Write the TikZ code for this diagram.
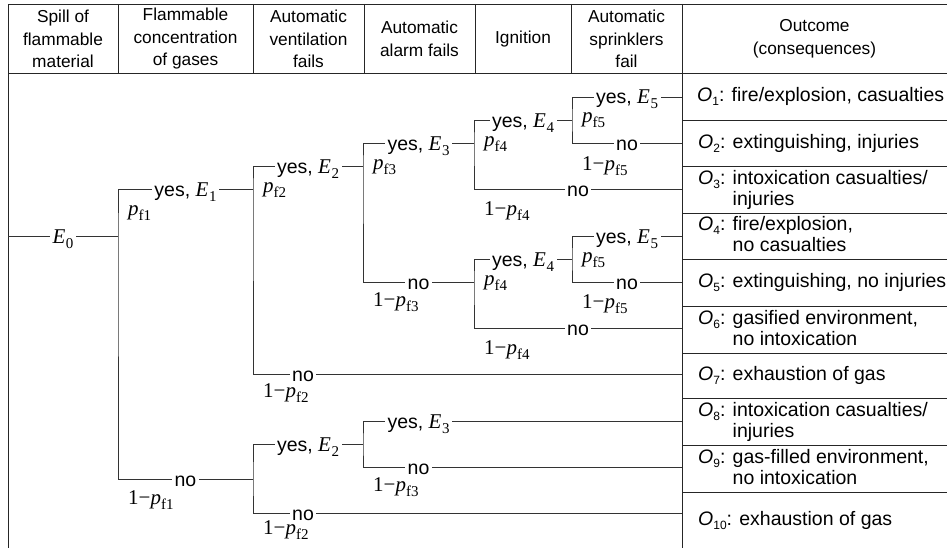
\documentclass[tikz,border=0pt]{standalone}
\usepackage{fontspec}
\setmainfont{Liberation Sans}
\newfontfamily\tmsfont{Liberation Serif}
\usepackage{tikz}
\usetikzlibrary{positioning}

\newcommand{\treefont}{\fontsize{19.5}{21}\selectfont}
\newcommand{\headfont}{\fontsize{17.3}{22.5}\selectfont}
\newcommand{\Ev}[1]{{\tmsfont\fontsize{21}{21}\selectfont\itshape E\kern0.5pt\raisebox{-5pt}{\fontsize{15}{15}\selectfont\upshape #1}}}
\newcommand{\pf}[1]{{\tmsfont\fontsize{21}{21}\selectfont\itshape p\raisebox{-5pt}{\fontsize{15}{15}\selectfont\upshape f#1}}}
\newcommand{\npf}[1]{{\tmsfont\fontsize{21}{21}\selectfont 1−}\pf{#1}}
\newcommand{\Oc}[1]{\textit{O}\raisebox{-4pt}{\fontsize{12}{12}\selectfont #1}}

\begin{document}
\begin{tikzpicture}[x=1pt, y=-1pt]
\tikzstyle{frame}=[line width=0.9pt, draw=black!85]
\tikzstyle{branch}=[line width=0.9pt, draw=black!80]
\tikzstyle{head}=[align=center, font=\headfont, inner sep=0pt]
\tikzstyle{lbl}=[anchor=base, fill=white, inner xsep=2.5pt, inner ysep=0pt, font=\treefont]
\tikzstyle{prob}=[anchor=base west, inner sep=0pt]
\tikzstyle{outc}=[anchor=west, align=left, inner sep=0pt, font=\treefont]

\useasboundingbox (0,0) rectangle (947,548);

% table
\draw[frame] (8,548) -- (8,4) -- (947,4);
\draw[frame] (8,73) -- (947,73);
\foreach \x in {118,253,364,475,571}
  \draw[frame] (\x,4) -- (\x,73);
\draw[frame] (682,4) -- (682,548);
\foreach \y in {120,166,213,259,306,353,398,445,492}
  \draw[frame] (682,\y) -- (947,\y);

\node[head] (h1) at (63,39) {Spill of\\flammable\\material};
\node[head] (h2) at (185.5,39) {Flammable\\concentration\\of gases};
\node[head] (h3) at (308.5,39) {Automatic\\ventilation\\fails};
\node[head] (h4) at (419.5,39) {Automatic\\alarm fails};
\node[head] (h5) at (523,39) {Ignition};
\node[head] (h6) at (626.5,39) {Automatic\\sprinklers\\fail};
\node[head] (h7) at (814.5,39) {Outcome\\(consequences)};

% junctions and ends
\coordinate (s0) at (8,236);
\coordinate (a) at (118,236);
\coordinate (b) at (253,189.5);
\coordinate (b2) at (253,479);
\coordinate (c) at (363,166.3);
\coordinate (c2) at (363,444.3);
\coordinate (d) at (474,143.3);
\coordinate (d2) at (474,282.2);
\coordinate (e) at (572,120.2);
\coordinate (e2) at (572,259);
\foreach \i/\y in {1/97,2/143.3,3/189.5,4/236,5/282.2,6/328.5,7/374.8,8/421,9/467.4,10/513.7}
  \coordinate (t\i) at (682,\y);

% branches
\draw[branch] (s0) -- (a);
\draw[branch] (b) -| (a) |- (b2);
\draw[branch] (c) -| (b) |- (t7);
\draw[branch] (d) -| (c) |- (d2);
\draw[branch] (e) -| (d) |- (t3);
\draw[branch] (t1) -| (e) |- (t2);
\draw[branch] (e2) -| (d2) |- (t6);
\draw[branch] (t4) -| (e2) |- (t5);
\draw[branch] (c2) -| (b2) |- (t10);
\draw[branch] (t8) -| (c2) |- (t9);

% yes / no
\node[lbl] (l0) at (63,243) {\Ev{0}};
\node[lbl] (ya) at (185.5,196.5) {yes, \Ev{1}};
\node[lbl] (na) at (185.5,486) {no};
\node[lbl] (yb) at (308,173.3) {yes, \Ev{2}};
\node[lbl] (nb) at (303,381.8) {no};
\node[lbl] (yc) at (418.5,150.3) {yes, \Ev{3}};
\node[lbl] (nc) at (418.5,289.2) {no};
\node[lbl] (yd) at (523,127.2) {yes, \Ev{4}};
\node[lbl] (nd) at (578,196.5) {no};
\node[lbl] (ye) at (627,104) {yes, \Ev{5}};
\node[lbl] (ne) at (627,150.3) {no};
\node[lbl] (yd2) at (523,266) {yes, \Ev{4}};
\node[lbl] (nd2) at (578,335.5) {no};
\node[lbl] (ye2) at (627,243) {yes, \Ev{5}};
\node[lbl] (ne2) at (627,289.2) {no};
\node[lbl] (yb2) at (308,451.3) {yes, \Ev{2}};
\node[lbl] (nb2) at (303,520.7) {no};
\node[lbl] (yc2) at (418.5,428) {yes, \Ev{3}};
\node[lbl] (nc2) at (418.5,474.4) {no};

% probabilities
\node[prob] (pa) at (128,215.5) {\pf{1}};
\node[prob] (qa) at (128,504) {\npf{1}};
\node[prob] (pb) at (263,192.3) {\pf{2}};
\node[prob] (qb) at (263,397.5) {\npf{2}};
\node[prob] (pc) at (373,169.3) {\pf{3}};
\node[prob] (qc) at (373,306) {\npf{3}};
\node[prob] (pd) at (484,146.2) {\pf{4}};
\node[prob] (qd) at (484,215.5) {\npf{4}};
\node[prob] (pe) at (582,123) {\pf{5}};
\node[prob] (qe) at (582,170.3) {\npf{5}};
\node[prob] (pd2) at (484,285) {\pf{4}};
\node[prob] (qd2) at (484,354.5) {\npf{4}};
\node[prob] (pe2) at (582,262) {\pf{5}};
\node[prob] (qe2) at (582,308.2) {\npf{5}};
\node[prob] (qb2) at (263,534) {\npf{2}};
\node[prob] (qc2) at (373,491.7) {\npf{3}};

% outcomes
\node[outc] (o1) at (697,96.5) {\Oc{1}: fire/explosion, casualties};
\node[outc] (o2) at (698,143) {\Oc{2}: extinguishing, injuries};
\node[outc] (o3) at (698,189.5) {\Oc{3}: intoxication casualties/\\\phantom{\Oc{3}: }injuries};
\node[outc] (o4) at (698,236) {\Oc{4}: fire/explosion,\\\phantom{\Oc{4}: }no casualties};
\node[outc] (o5) at (698,282.5) {\Oc{5}: extinguishing, no injuries};
\node[outc] (o6) at (698,329.5) {\Oc{6}: gasified environment,\\\phantom{\Oc{6}: }no intoxication};
\node[outc] (o7) at (698,375.5) {\Oc{7}: exhaustion of gas};
\node[outc] (o8) at (698,421.5) {\Oc{8}: intoxication casualties/\\\phantom{\Oc{8}: }injuries};
\node[outc] (o9) at (698,468.5) {\Oc{9}: gas-filled environment,\\\phantom{\Oc{9}: }no intoxication};
\node[outc] (o10) at (698,520) {\Oc{10}: exhaustion of gas};

\end{tikzpicture}
\end{document}
